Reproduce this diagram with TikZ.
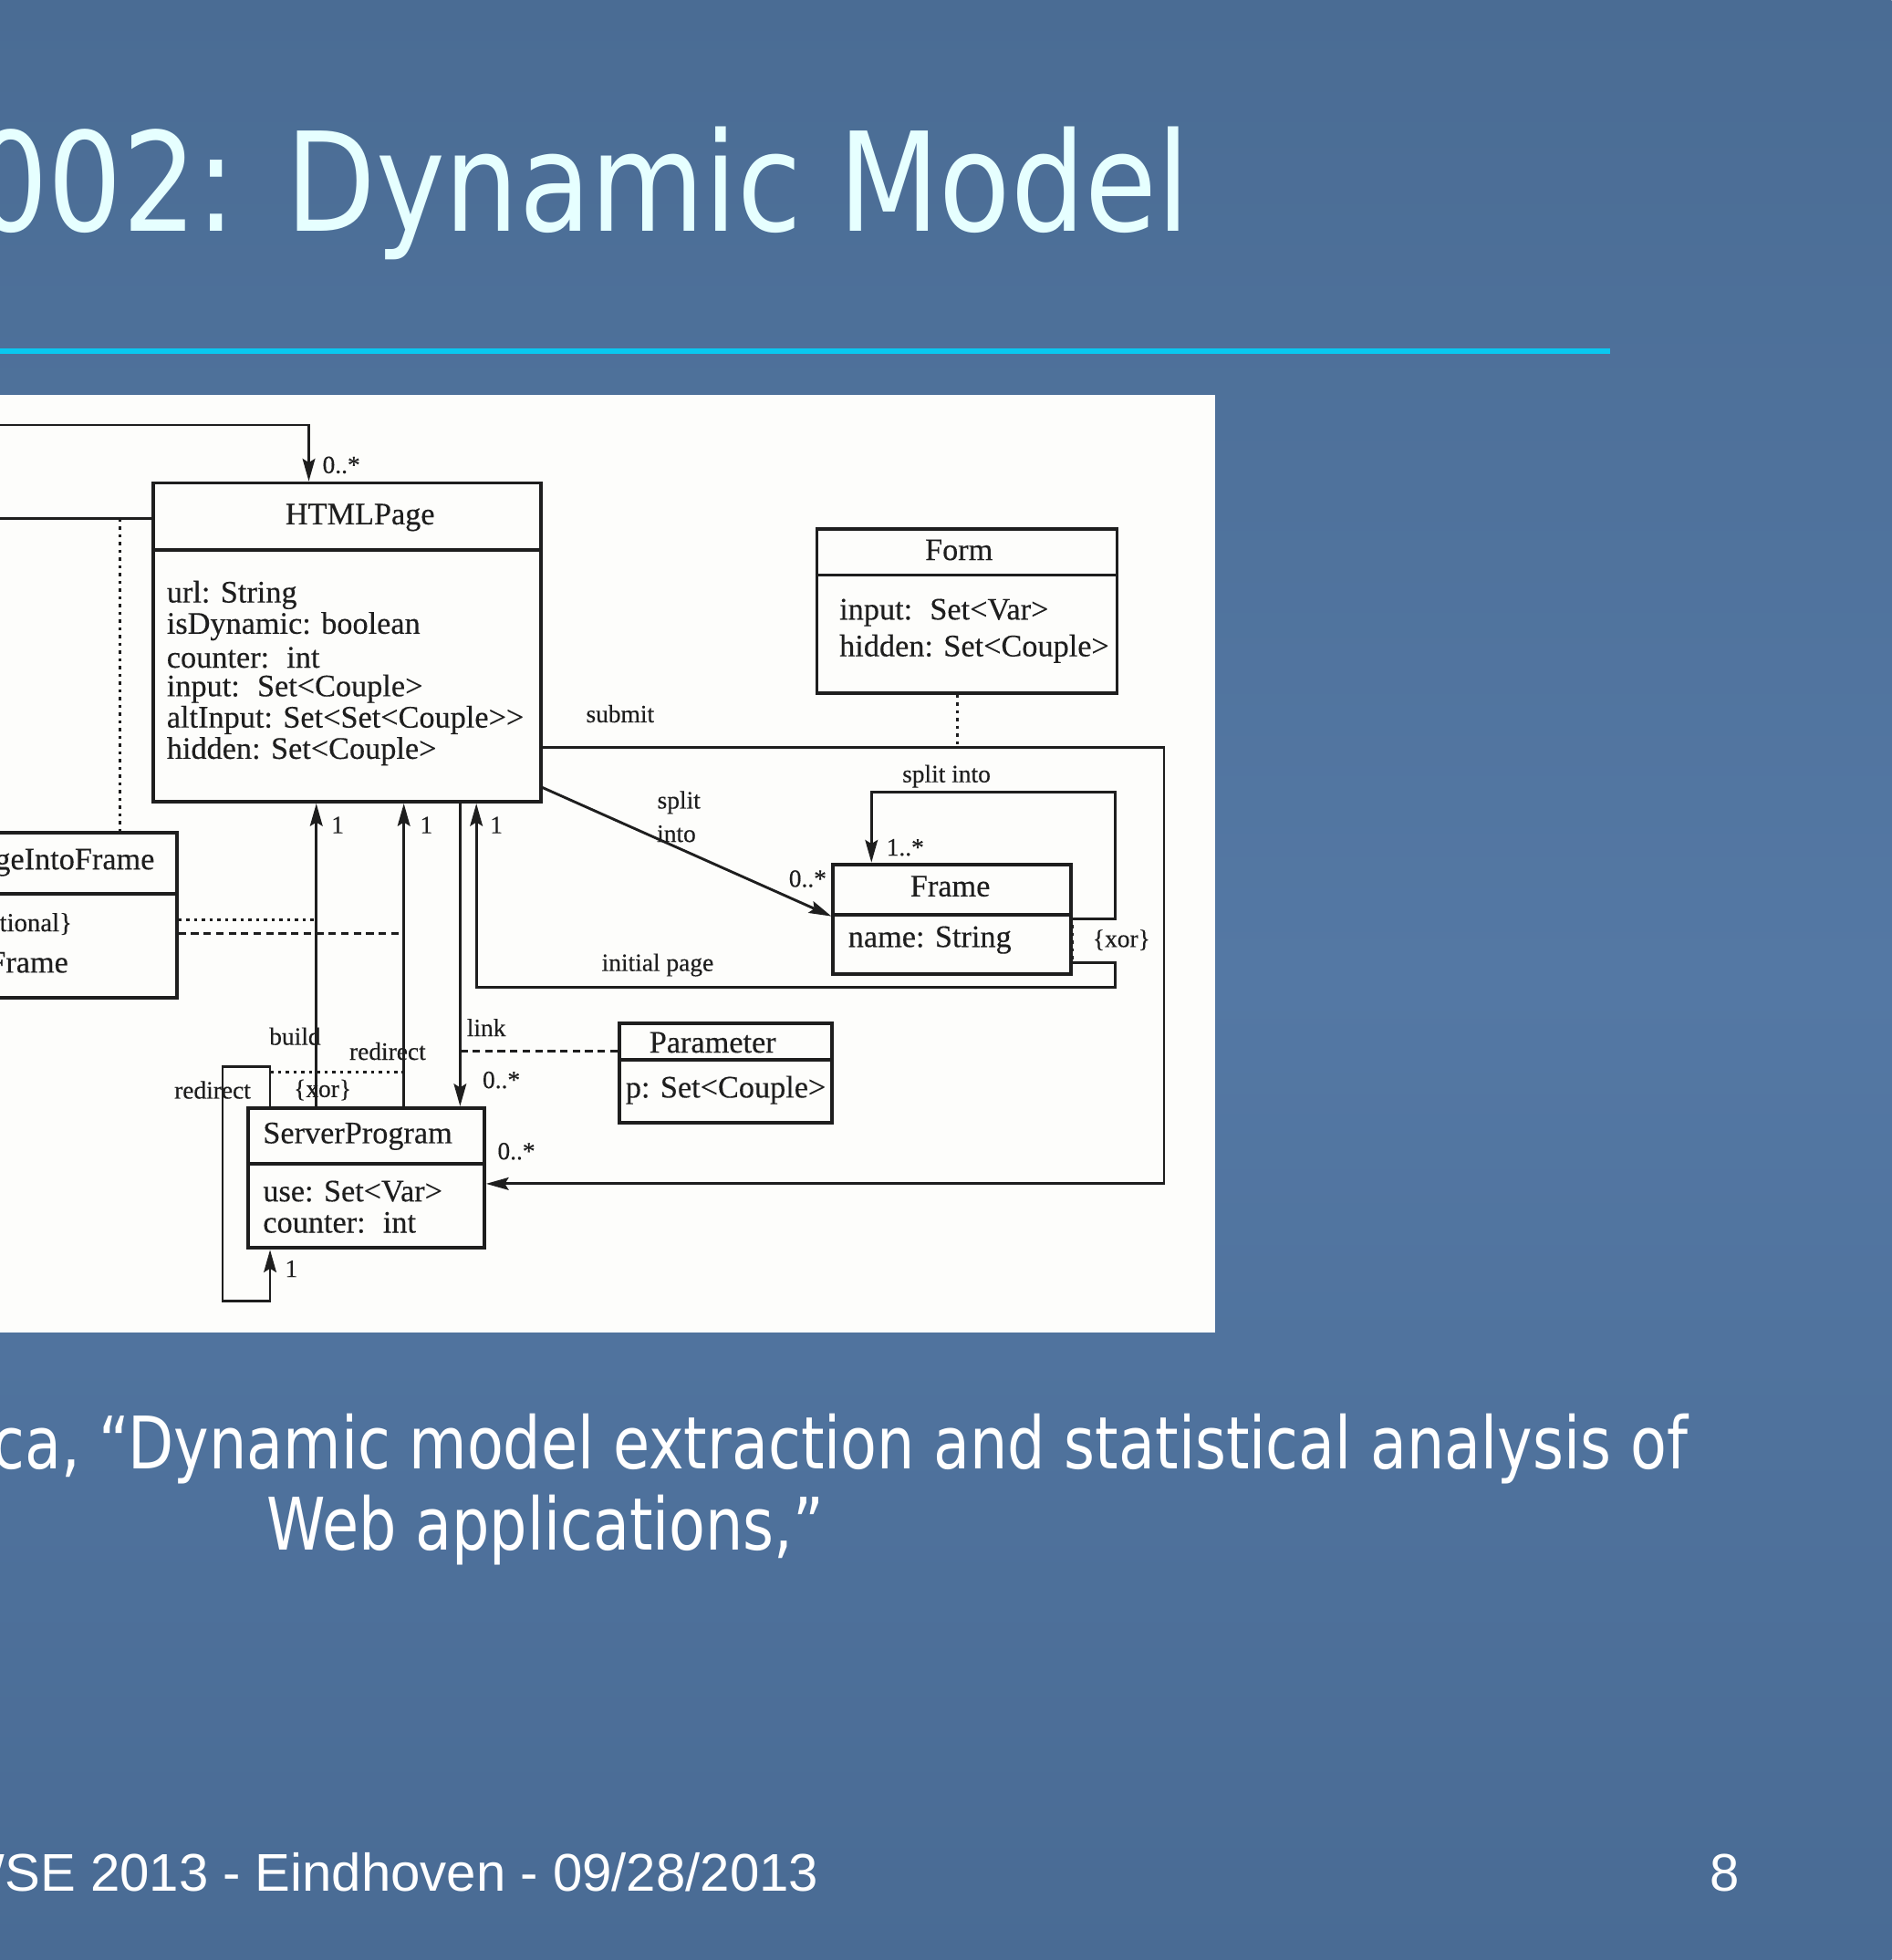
\documentclass[tikz,border=0pt]{standalone}
\usepackage{fontspec}
\setmainfont{Liberation Serif}
\newfontfamily\diagfont[FakeBold=0.3]{Liberation Serif}
\newfontfamily\titlefont[FakeStretch=0.85]{DejaVu Sans}
\newfontfamily\citefont[FakeStretch=0.82]{DejaVu Sans}
\newfontfamily\footfont{Liberation Sans}
\usetikzlibrary{arrows.meta}
\definecolor{bgtop}{RGB}{74,108,148}
\definecolor{bgmid}{RGB}{84,120,164}
\definecolor{bgbot}{RGB}{73,107,148}
\definecolor{titlecol}{RGB}{230,255,255}
\definecolor{rulecol}{RGB}{10,200,240}
\definecolor{paper}{RGB}{253,253,251}
\definecolor{ink}{RGB}{30,30,30}
\tikzset{
  umlbox/.style={draw=ink, line width=1.4pt, fill=none, inner sep=0pt, anchor=north west},
  divider/.style={draw=ink, line width=1.4pt},
  conn/.style={draw=ink, line width=1.05pt},
  arr/.style={conn, -{Stealth[length=9pt,width=5pt,inset=1.5pt]}},
  dotln/.style={draw=ink, line width=1.1pt, dash pattern=on 1.3pt off 1.8pt},
  dashln/.style={draw=ink, line width=1pt, dash pattern=on 3pt off 2pt},
  cname/.style={inner sep=0pt, text=ink, font=\diagfont\fontsize{12.5}{12.5}\selectfont},
  attr/.style={inner sep=0pt, text=ink, anchor=west, font=\diagfont\fontsize{12.5}{12.5}\selectfont},
  lbl/.style={inner sep=0pt, text=ink, font=\diagfont\fontsize{10}{10}\selectfont},
}
\begin{document}
\begin{tikzpicture}[x=0.5pt,y=-0.5pt]
\useasboundingbox (0,0) rectangle (1513,1568);
\shade[top color=bgtop, bottom color=bgbot, middle color=bgmid] (0,0) rectangle (1513,1568);
\clip (0,0) rectangle (1513,1568);

% title and rule
\node[anchor=base east, inner sep=0pt, text=titlecol, font=\titlefont\fontsize{55}{60}\selectfont] (title) at (952,185) {2002: Dynamic Model};
\draw[rulecol, line width=2pt] (0,281) -- (1288,281);

% figure panel
\fill[paper] (0,316) rectangle (972,1066);

% classes
\node[umlbox, minimum width=155pt, minimum height=127.5pt] (html) at (121,385) {};
\draw[divider] (html.west |- 0,440) -- (html.east |- 0,440);
\node[cname] (htmlname) at (288,414) {HTMLPage};
\node[attr] (a1) at (133,476) {url: String};
\node[attr] (a2) at (133,501) {isDynamic: boolean};
\node[attr] (a3) at (133,526) {counter:\hspace{7pt}int};
\node[attr] (a4) at (133,551) {input:\hspace{7pt}Set<Couple>};
\node[attr] (a5) at (133,576) {altInput: Set<Set<Couple>{}>};
\node[attr] (a6) at (133,601) {hidden: Set<Couple>};

\node[umlbox, minimum width=80pt, minimum height=66pt] (pif) at (-20,665) {};
\draw[divider] (pif.west |- 0,715) -- (pif.east |- 0,715);
\node[cname, anchor=east] (pifname) at (124,690) {PageIntoFrame};
\node[attr, anchor=east, font=\diagfont\fontsize{10.5}{10.5}\selectfont] (p1) at (58,740) {\{optional\}};
\node[attr, anchor=east] (p2) at (55,770) {Frame};

\node[umlbox, minimum width=120pt, minimum height=65.5pt] (form) at (652,422) {};
\draw[divider] (form.west |- 0,460) -- (form.east |- 0,460);
\node[cname] (formname) at (767,440) {Form};
\node[attr] (f1) at (671,490) {input:\hspace{7pt}Set<Var>};
\node[attr] (f2) at (671,519) {hidden: Set<Couple>};

\node[umlbox, minimum width=95pt, minimum height=44pt] (frame) at (665,690) {};
\draw[divider] (frame.west |- 0,732) -- (frame.east |- 0,732);
\node[cname] (framename) at (760,709) {Frame};
\node[attr] (fr1) at (678,752) {name: String};

\node[umlbox, minimum width=85pt, minimum height=40pt] (param) at (494,817) {};
\draw[divider] (param.west |- 0,848) -- (param.east |- 0,848);
\node[cname] (paramname) at (570,834) {Parameter};
\node[attr] (pa1) at (500,872) {p: Set<Couple>};

\node[umlbox, minimum width=94.5pt, minimum height=56pt] (server) at (197,885) {};
\draw[divider] (server.west |- 0,931) -- (server.east |- 0,931);
\node[cname, anchor=west] (servername) at (210,909) {ServerProgram};
\node[attr] (s1) at (210,953) {use: Set<Var>};
\node[attr] (s2) at (210,978) {counter:\hspace{7pt}int};

% connectors
\coordinate (loopA) at (-5,340);
\coordinate (loopB) at (-5,415);
\draw[arr] (loopA) -- (247,340) -- (247,0 |- html.north);
\draw[conn] (loopB) -- (0,415 -| html.west);
\node[lbl] (m1) at (273,372) {0..*};
\draw[dotln] (96,415) -- (96,0 |- pif.north);

\draw[dotln] (pif.east |- 0,736) -- (253,736);
\draw[dashln] (pif.east |- 0,747) -- (323,747);

\draw[arr] (253,0 |- server.north) -- (253,0 |- html.south);
\node[lbl] (m2) at (270,660) {1};
\node[lbl] (lbuild) at (236,829) {build};
\draw[arr] (323,0 |- server.north) -- (323,0 |- html.south);
\node[lbl] (m3) at (341,660) {1};
\node[lbl] (lredir) at (310,841) {redirect};
\draw[arr] (368,0 |- html.south) -- (368,0 |- server.north);
\node[lbl] (llink) at (389,822) {link};
\node[lbl] (m4) at (401,864) {0..*};

\draw[arr] (frame.east |- 0,770) -- (892,770) -- (892,790) -- (381,790) -- (381,0 |- html.south);
\node[lbl] (m5) at (397,660) {1};
\node[lbl] (linit) at (526,772) {initial page};

\draw[arr] (frame.east |- 0,735) -- (892,735) -- (892,634) -- (697,634) -- (697,0 |- frame.north);
\node[lbl] (lsplit2) at (757,621) {split into};
\node[lbl] (m6) at (724,678) {1..*};
\draw[dotln] (858,740) -- (858,768);
\node[lbl] (lxor2) at (897,752) {\{xor\}};

\draw[arr] (html.east |- 0,630) -- (frame.west |- 0,733);
\node[lbl] (lsplit) at (543,642) {split};
\node[lbl] (linto) at (541,667) {into};
\node[lbl] (m7) at (646,703) {0..*};

\draw[arr] (html.east |- 0,598) -- (931,598) -- (931,947) -- (server.east |- 0,947);
\node[lbl] (lsubmit) at (496,571) {submit};
\node[lbl] (m8) at (413,921) {0..*};
\draw[dotln] (766,0 |- form.south) -- (766,598);

\draw[dashln] (param.west |- 0,841) -- (368,841);

\draw[arr] (216,0 |- server.north) -- (216,853) -- (178,853) -- (178,1041) -- (216,1041) -- (216,0 |- server.south);
\node[lbl] (lredir2) at (170,872) {redirect};
\node[lbl] (m9) at (233,1015) {1};
\draw[dotln] (216,858) -- (323,858);
\node[lbl] (lxor1) at (258,872) {\{xor\}};

% citation and footer
\node[anchor=base east, inner sep=0pt, text=white, font=\citefont\fontsize{29}{34}\selectfont] (cite1) at (1350,1175) {ca, “Dynamic model extraction and statistical analysis of};
\node[anchor=base west, inner sep=0pt, text=white, font=\citefont\fontsize{29}{34}\selectfont] (cite2) at (213,1240) {Web applications,”};
\node[anchor=base east, inner sep=0pt, text=white, font=\footfont\fontsize{21.2}{26}\selectfont] (foot) at (655,1513) {WSE 2013 - Eindhoven - 09/28/2013};
\node[anchor=base east, inner sep=0pt, text=white, font=\footfont\fontsize{21.2}{26}\selectfont] (pagenum) at (1392,1513) {8};
\end{tikzpicture}
\end{document}
